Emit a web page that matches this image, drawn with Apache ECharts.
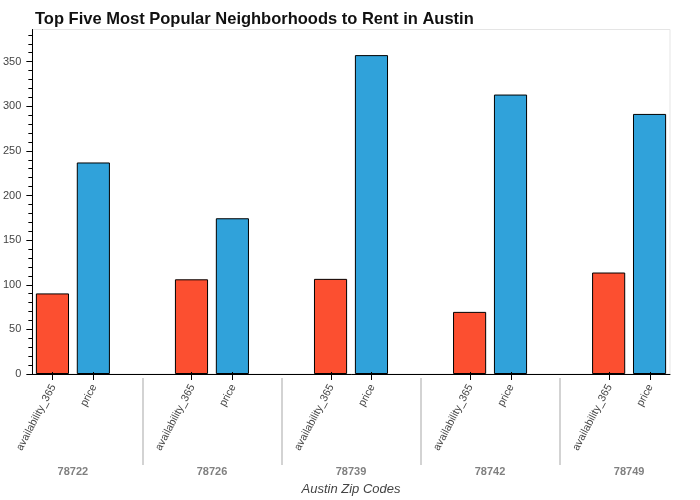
<!DOCTYPE html>
<html>
<head>
<meta charset="utf-8">
<title>Top Five Most Popular Neighborhoods to Rent in Austin</title>
<script src="https://cdn.jsdelivr.net/npm/echarts@6/dist/echarts.min.js"></script>
<style>
    html, body { margin: 0; padding: 0; background: #fff; }
    #chart { width: 700px; height: 500px; }
</style>
</head>
<body>
<div id="chart"></div>
<script>
// data
const zipCodes = ['78722', '78726', '78739', '78742', '78749'];
const availability365 = [90.3, 106.1, 106.6, 69.6, 113.7];
const price = [237.0, 174.5, 357.3, 313.1, 291.4];
const yTicks = [0, 50, 100, 150, 200, 250, 300, 350];
const yMax = 386;

// minor ticks every 10
const yMinorTicks = [];
for (let v = 0; v <= 380; v += 10) {
    yMinorTicks.push(v);
}

// layout (bokeh style nested factor range)
const font = 'Liberation Sans, Arial, Helvetica, sans-serif';
const plotLeft = 32;
const plotRight = 670;
const plotTop = 29.5;
const plotBottom = 374;
const groupPad = 1.4; // space between groups, in factor widths
const factorW = (plotRight - plotLeft) / (zipCodes.length * 2 + (zipCodes.length - 1) * groupPad);
const bandW = factorW * (2 + groupPad);
const bandLeft = plotLeft - factorW * groupPad / 2;
const barW = factorW * 0.81;
const barGap = ((factorW - barW) / barW * 100).toFixed(1) + '%';

let myChart = echarts.init(document.getElementById('chart'));

let barLabel = function (name) {
    return {
        show: true,
        position: 'bottom',
        distance: 13,
        offset: [2, 0],
        rotate: 62,
        align: 'right',
        verticalAlign: 'middle',
        formatter: name,
        color: '#444',
        fontSize: 10.7,
        fontFamily: font
    };
};

let option = {
    animation: false,
    backgroundColor: '#fff',
    title: {
        text: 'Top Five Most Popular Neighborhoods to Rent in Austin',
        left: 30,
        top: 6,
        textStyle: {
            color: '#111',
            fontSize: 16.5,
            fontWeight: 'bold',
            fontFamily: font
        }
    },
    grid: [
        { // frame with y axis
            left: plotLeft,
            top: plotTop,
            width: plotRight - plotLeft,
            height: plotBottom - plotTop,
            show: true,
            borderColor: '#e5e5e5',
            borderWidth: 1
        },
        { // bars
            left: bandLeft,
            top: plotTop,
            width: bandW * zipCodes.length,
            height: plotBottom - plotTop
        },
        { // group labels + separators
            left: bandLeft,
            top: 378,
            width: bandW * zipCodes.length,
            height: 87
        }
    ],
    xAxis: [
        {
            gridIndex: 0,
            type: 'value',
            min: 0,
            max: 1,
            axisLine: { show: true, lineStyle: { color: '#000', width: 1 } },
            axisTick: { show: false },
            axisLabel: { show: false },
            splitLine: { show: false }
        },
        {
            gridIndex: 1,
            type: 'category',
            data: zipCodes,
            axisLine: { show: false },
            axisTick: { show: false },
            axisLabel: { show: false },
            splitLine: { show: false }
        },
        {
            gridIndex: 2,
            type: 'category',
            data: zipCodes,
            position: 'bottom',
            axisLine: { show: false },
            axisTick: { show: false },
            axisLabel: {
                margin: 1,
                color: '#808080',
                fontSize: 11,
                fontWeight: 'bold',
                fontFamily: font
            },
            splitLine: {
                show: true,
                showMinLine: false,
                showMaxLine: false,
                lineStyle: { color: '#d3d3d3', width: 2 }
            },
            name: 'Austin Zip Codes',
            nameLocation: 'middle',
            nameGap: 18,
            nameTextStyle: {
                color: '#444',
                fontSize: 13,
                fontStyle: 'italic',
                fontFamily: font
            }
        }
    ],
    yAxis: [
        { // labels and major ticks
            gridIndex: 0,
            type: 'value',
            min: 0,
            max: yMax,
            axisLine: { show: true, lineStyle: { color: '#000', width: 1 } },
            axisTick: { show: true, length: 6, customValues: yTicks, lineStyle: { color: '#000' } },
            axisLabel: {
                customValues: yTicks,
                margin: 11,
                color: '#444',
                fontSize: 11,
                fontFamily: font
            },
            splitLine: { show: false }
        },
        { // minor ticks
            gridIndex: 0,
            type: 'value',
            position: 'left',
            min: 0,
            max: yMax,
            axisLine: { show: false },
            axisTick: { show: true, length: 4, customValues: yMinorTicks, lineStyle: { color: '#000' } },
            axisLabel: { show: false },
            splitLine: { show: false }
        },
        {
            gridIndex: 1,
            type: 'value',
            min: 0,
            max: yMax,
            show: false
        },
        {
            gridIndex: 2,
            type: 'value',
            show: false
        }
    ],
    series: [
        {
            name: 'availability_365',
            type: 'bar',
            xAxisIndex: 1,
            yAxisIndex: 2,
            data: availability365,
            barWidth: barW,
            barGap: barGap,
            itemStyle: { color: '#fc4f30', borderColor: '#000', borderWidth: 1 },
            label: barLabel('availability_365')
        },
        {
            name: 'price',
            type: 'bar',
            xAxisIndex: 1,
            yAxisIndex: 2,
            data: price,
            barWidth: barW,
            barGap: barGap,
            itemStyle: { color: '#30a2da', borderColor: '#000', borderWidth: 1 },
            label: barLabel('price')
        },
        { // x ticks under each bar
            type: 'custom',
            xAxisIndex: 1,
            yAxisIndex: 2,
            clip: false,
            silent: true,
            z: 5,
            data: zipCodes.map(function (z) { return [z, 0]; }),
            renderItem: function (params, api) {
                let c = api.coord([api.value(0), 0]);
                let fw = api.size([1, 0])[0] / (2 + groupPad);
                return {
                    type: 'group',
                    children: [-0.5, 0.5].map(function (k) {
                        let x = Math.round(c[0] + k * fw) + 0.5;
                        return {
                            type: 'line',
                            shape: { x1: x, y1: c[1] - 2, x2: x, y2: c[1] + 6 },
                            style: { stroke: '#000', lineWidth: 1 }
                        };
                    })
                };
            }
        }
    ]
};

myChart.setOption(option);
</script>
</body>
</html>
